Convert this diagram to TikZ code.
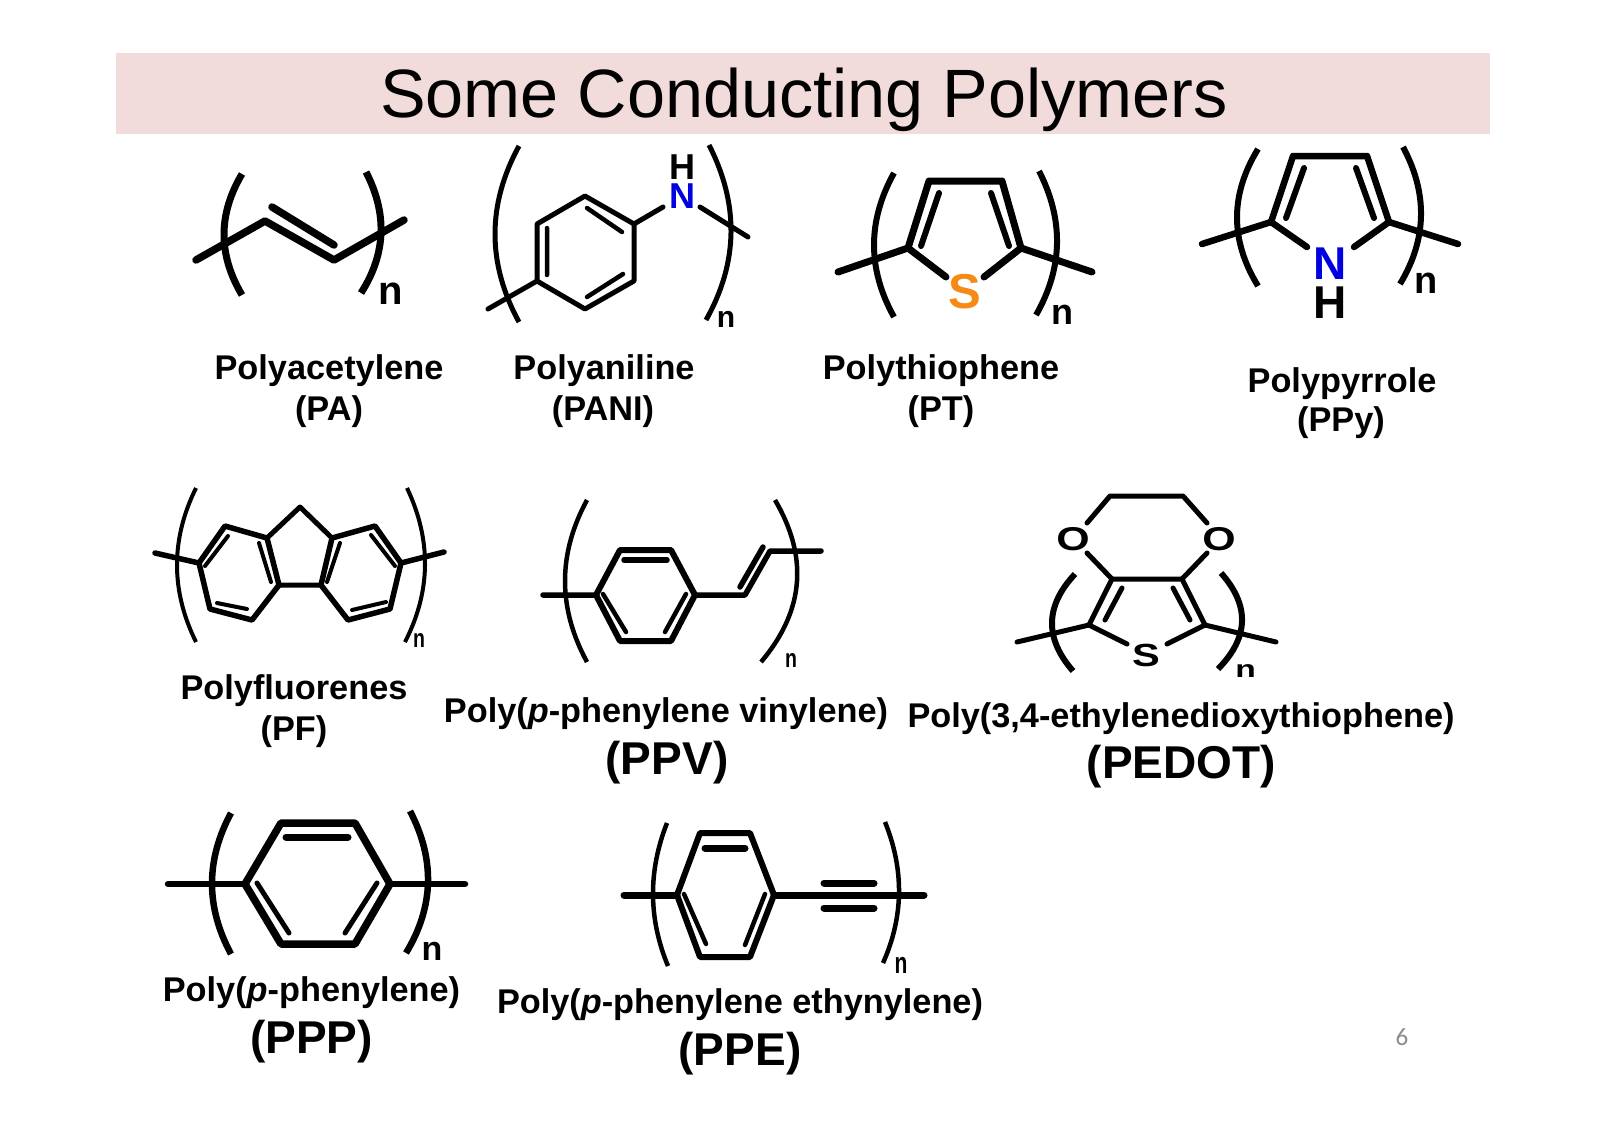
\documentclass[tikz,border=0pt]{standalone}
\usepackage{fontspec}
\setmainfont{Liberation Sans}
\newfontfamily\pagefont{Carlito}
\definecolor{barpink}{HTML}{F2DCDB}
\definecolor{atomblue}{HTML}{0000E0}
\definecolor{atomorange}{HTML}{F58A14}
\definecolor{pagegray}{HTML}{8C8C8C}
\newcommand\ParenArc[6][]{%
  \pgfmathsetmacro{\bxa}{(8*#4-#2-#5)/6}%
  \pgfmathsetmacro{\bya}{#3+(#6-#3)/3}%
  \pgfmathsetmacro{\byb}{#3+2*(#6-#3)/3}%
  \draw[#1,line cap=butt] (#2,#3) .. controls (\bxa,\bya) and (\bxa,\byb) .. (#5,#6);}
\tikzset{
  bond/.style={line width=#1,line cap=round,line join=round},
  bond/.default=5pt,
  txt/.style={anchor=base,inner sep=0pt,outer sep=0pt,text=black},
  name label/.style={txt,font=\bfseries\fontsize{34.3}{34.3}\selectfont},
  abbr label/.style={txt,font=\bfseries\fontsize{46}{46}\selectfont},
  atom/.style={txt,font=\bfseries\fontsize{#1}{#1}\selectfont},
  repeat n/.style={txt,font=\bfseries\fontsize{#1}{#1}\selectfont},
}
\begin{document}
\begin{tikzpicture}[x=1pt,y=-1pt]
\useasboundingbox (0,0) rectangle (1606,1136);
\fill[white] (0,0) rectangle (1606,1136);
\fill[barpink] (116,53) rectangle (1490,134);
\node[txt,font=\fontsize{68.4}{68.4}\selectfont] (title) at (804,117) {Some Conducting Polymers};
% PA
\draw[bond=7.5pt] (196,260) -- (265,221) -- (334,260) -- (404,220);
\draw[bond=7.5pt] (272,207) -- (334,245);
\ParenArc[line width=7pt]{242}{174}{224}{242}{295}
\ParenArc[line width=7pt]{366}{172}{381}{361}{293}
\node[repeat n=40] (pan) at (391,304) {n};
\node[name label] (pa1) at (329,379) {Polyacetylene};
\node[name label] (pa2) at (329,420) {(PA)};
% PANI
\ParenArc[line width=5pt]{519}{146}{495}{519}{322}
\ParenArc[line width=5pt]{709}{145}{731}{706}{320}
\draw[bond=5pt] (585,196) -- (634,224) -- (634,281) -- (585,309) -- (537,281) -- (537,224) -- cycle;
\draw[bond=4.5pt] (587,208) -- (622,232) (547,228) -- (547,275) (587,297) -- (623,274);
\draw[bond=5pt] (537,281) -- (488,309) (634,224) -- (663,207) (700,207) -- (748,237);
\node[atom=36,text=atomblue] (panin) at (682,208) {N};
\node[atom=36] (panih) at (682,179) {H};
\node[repeat n=30] (panin2) at (726,327) {n};
\node[name label] (pani1) at (604,379) {Polyaniline};
\node[name label] (pani2) at (603,420) {(PANI)};
% PT
\ParenArc[line width=6pt]{894}{173}{874}{894}{317}
\ParenArc[line width=6pt]{1039}{171}{1057}{1036}{315}
\draw[bond=7pt] (946,277) -- (908,248) -- (929,181) -- (1002,181) -- (1021,248) -- (984,277);
\draw[bond=6pt] (939,193) -- (921,246) (991,193) -- (1009,246);
\draw[bond=7pt] (908,248) -- (838,272) (1021,248) -- (1092,272);
\node[atom=49,text=atomorange] (pts) at (965,308) {S};
\node[repeat n=36] (ptn) at (1062,324) {n};
\node[name label] (pt1) at (941,379) {Polythiophene};
\node[name label] (pt2) at (941,420) {(PT)};
% PPy
\ParenArc[line width=6pt]{1258}{149}{1237}{1258}{286}
\ParenArc[line width=6pt]{1403}{147}{1421}{1400}{284}
\draw[bond=6.5pt] (1307,247) -- (1271,222) -- (1293,156) -- (1367,156) -- (1389,222) -- (1354,247);
\draw[bond=6pt] (1304,168) -- (1286,218) (1356,168) -- (1374,218);
\draw[bond=6.5pt] (1271,222) -- (1202,244) (1389,222) -- (1458,244);
\node[atom=46,text=atomblue] (ppyn) at (1330,279) {N};
\node[atom=46] (ppyh) at (1330,318) {H};
\node[repeat n=38] (ppyrn) at (1426,293) {n};
\node[name label] (ppy1) at (1342,392) {Polypyrrole};
\node[name label] (ppy2) at (1341,431) {(PPy)};
% PF
\ParenArc[line width=4pt]{196}{488}{177}{196}{642}
\ParenArc[line width=4pt]{407}{488}{425}{405}{642}
\draw[bond=5.5pt] (155,553) -- (199,563) (401,563) -- (444,552);
\draw[bond=5.5pt] (199,563) -- (225,526) -- (267,538) -- (279,585) -- (252,620) -- (210,609) -- cycle;
\draw[bond=5.5pt] (401,563) -- (375,526) -- (332,538) -- (321,585) -- (348,620) -- (390,609) -- cycle;
\draw[bond=5pt] (267,538) -- (300,507) -- (332,538) (279,585) -- (321,585);
\draw[bond=4pt] (228,536) -- (205,566) (259,543) -- (271,582) (217,603) -- (247,609);
\draw[bond=4pt] (371,535) -- (395,566) (340,543) -- (327,582) (386,602) -- (352,610);
\node[repeat n=26,xscale=.75] (pfn) at (419,647) {n};
\node[name label] (pf1) at (294,699) {Polyfluorenes};
\node[name label] (pf2) at (294,740) {(PF)};
% PPV
\ParenArc[line width=4.5pt]{587}{500}{565}{587}{662}
\ParenArc[line width=4.5pt]{775}{500}{797}{761}{662}
\draw[bond=6pt] (596,595) -- (620,550) -- (671,550) -- (695,595) -- (671,641) -- (620,641) -- cycle;
\draw[bond=5.5pt] (624,560) -- (667,560);
\draw[bond=4.5pt] (603,594) -- (626,632) (686,594) -- (665,632);
\draw[bond=5.5pt] (543,595) -- (596,595) (695,595) -- (745,595) -- (770,551) -- (821,551) (740,587) -- (763,547);
\node[repeat n=26,xscale=.75] (ppvn) at (791,667) {n};
\node[name label] (ppv1) at (666,722) {Poly(\textit{p}-phenylene vinylene)};
\node[abbr label] (ppv2) at (667,774) {(PPV)};
% PEDOT
\ParenArc[line width=6pt]{1075}{574}{1052}{1073}{671}
\ParenArc[line width=6pt]{1221}{573}{1242}{1218}{669}
\draw[bond=5pt] (1127,644) -- (1089,625) -- (1112,579) -- (1182,579) -- (1205,625) -- (1167,644);
\draw[bond=5pt] (1122,588) -- (1105,620) (1173,588) -- (1190,620);
\draw[bond=5pt] (1089,625) -- (1017,642) (1205,625) -- (1276,642);
\draw[bond=5pt] (1112,579) -- (1087,553) (1182,579) -- (1207,553);
\draw[bond=5pt] (1087,523) -- (1110,496) -- (1183,496) -- (1207,523);
\node[atom=33,xscale=1.3] (pedoo1) at (1073,550) {O};
\node[atom=33,xscale=1.3] (pedoo2) at (1219,550) {O};
\node[atom=32,xscale=1.3] (pedos) at (1146,666) {S};
\node[repeat n=24,xscale=1.4] (pedn) at (1245.5,677) {n};
\node[name label] (ped1) at (1181,727) {Poly(3,4-ethylenedioxythiophene)};
\node[abbr label] (ped2) at (1181.5,778) {(PEDOT)};
% PPP
\ParenArc[line width=6.5pt]{231}{813}{212}{231}{954}
\ParenArc[line width=6.5pt]{410}{811}{428}{406}{953}
\draw[bond=7.5pt] (245,884) -- (281,823) -- (355,823) -- (390,884) -- (355,944) -- (281,944) -- cycle;
\draw[bond=7pt] (286,837) -- (348,837);
\draw[bond=5pt] (257,883) -- (289,933) (377,883) -- (345,933);
\draw[bond=6.5pt] (168,884) -- (245,884) (390,884) -- (465,884);
\node[repeat n=34] (pppn) at (432,960) {n};
\node[name label] (ppp1) at (311.5,1001) {Poly(\textit{p}-phenylene)};
\node[abbr label] (ppp2) at (311.5,1053) {(PPP)};
% PPE
\ParenArc[line width=4.5pt]{667}{823}{653}{668}{966}
\ParenArc[line width=4.5pt]{885}{822}{899}{883}{963}
\draw[bond=6pt] (677,895) -- (700,833) -- (750,833) -- (774,895) -- (750,957) -- (700,957) -- cycle;
\draw[bond=7pt] (705,848) -- (745,848);
\draw[bond=4.5pt] (684,894) -- (706,944) (765,894) -- (745,945);
\draw[bond=7pt] (624,895) -- (677,895) (774,895) -- (924,895);
\draw[bond=7pt] (824,883) -- (874,883) (824,908) -- (874,908);
\node[repeat n=30,xscale=.7] (ppen) at (901,973) {n};
\node[name label] (ppe1) at (740,1013) {Poly(\textit{p}-phenylene ethynylene)};
\node[abbr label] (ppe2) at (740,1065) {(PPE)};
% page number
\node[txt,text=pagegray,font=\pagefont\fontsize{25}{25}\selectfont] (pagenum) at (1402,1045) {6};
\end{tikzpicture}
\end{document}
